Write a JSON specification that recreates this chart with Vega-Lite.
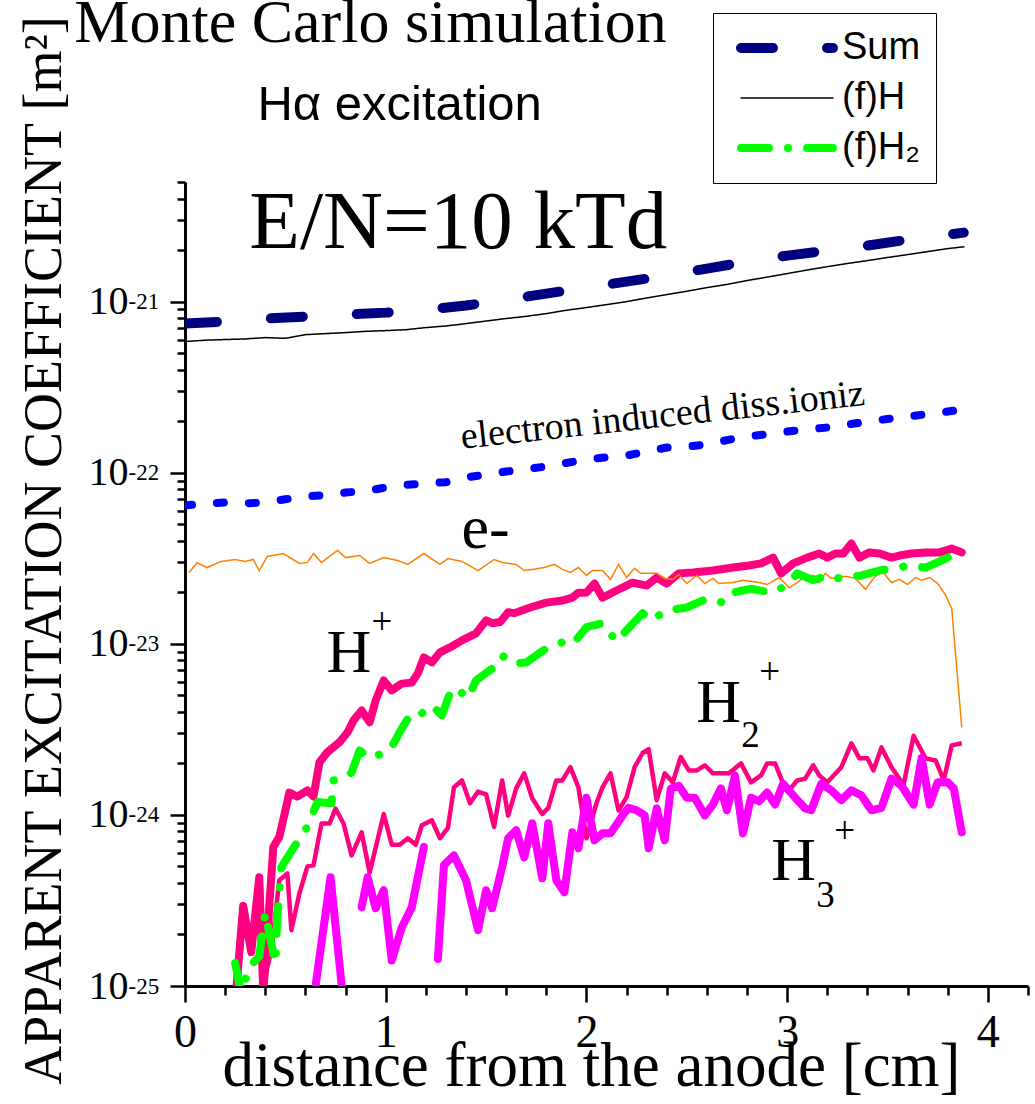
{
"$schema": "https://vega.github.io/schema/vega-lite/v6.json",
"width": 843, "height": 804,
"autosize": {"type": "none"},
"padding": {"left": 185, "top": 182, "right": 7, "bottom": 118},
"background": "white",
"config": {"view": {"stroke": null}, "font": "Liberation Serif"},
"title": {"text": "Monte Carlo simulation", "font": "Liberation Serif", "fontSize": 62, "fontWeight": "normal", "color": "black", "anchor": "middle", "frame": "group", "dx": -236, "offset": -42},
"datasets": {
"electron": [{"x":0,"y":6.43e-23},{"x":0.1,"y":6.6e-23},{"x":0.2,"y":6.7e-23},{"x":0.3,"y":6.62e-23},{"x":0.4,"y":6.7e-23},{"x":0.5,"y":7.0e-23},{"x":0.6,"y":7.26e-23},{"x":0.7,"y":7.4e-23},{"x":0.8,"y":7.66e-23},{"x":0.9,"y":7.8e-23},{"x":1.0,"y":8.19e-23},{"x":1.1,"y":8.5e-23},{"x":1.2,"y":8.65e-23},{"x":1.3,"y":8.8e-23},{"x":1.4,"y":9.38e-23},{"x":1.5,"y":9.76e-23},{"x":1.6,"y":1.016e-22},{"x":1.7,"y":1.05e-22},{"x":1.8,"y":1.087e-22},{"x":1.9,"y":1.14e-22},{"x":2.0,"y":1.194e-22},{"x":2.1,"y":1.23e-22},{"x":2.2,"y":1.26e-22},{"x":2.3,"y":1.33e-22},{"x":2.4,"y":1.403e-22},{"x":2.5,"y":1.42e-22},{"x":2.6,"y":1.462e-22},{"x":2.7,"y":1.55e-22},{"x":2.8,"y":1.627e-22},{"x":2.9,"y":1.68e-22},{"x":3.0,"y":1.74e-22},{"x":3.1,"y":1.79e-22},{"x":3.2,"y":1.837e-22},{"x":3.3,"y":1.91e-22},{"x":3.4,"y":1.99e-22},{"x":3.5,"y":2.06e-22},{"x":3.6,"y":2.13e-22},{"x":3.7,"y":2.2e-22},{"x":3.8,"y":2.28e-22},{"x":3.88,"y":2.34e-22}],
"hplus": [{"x":0.25,"y":8e-26},{"x":0.29,"y":2.94e-25},{"x":0.33,"y":1.58e-25},{"x":0.37,"y":4.32e-25},{"x":0.39,"y":9e-26},{"x":0.44,"y":6.49e-25},{"x":0.47,"y":7.44e-25},{"x":0.52,"y":1.35e-24},{"x":0.56,"y":1.28e-24},{"x":0.61,"y":1.39e-24},{"x":0.64,"y":1.28e-24},{"x":0.67,"y":2.03e-24},{"x":0.71,"y":2.33e-24},{"x":0.77,"y":2.66e-24},{"x":0.81,"y":3.04e-24},{"x":0.84,"y":3.57e-24},{"x":0.88,"y":4.08e-24},{"x":0.92,"y":3.48e-24},{"x":0.95,"y":4.67e-24},{"x":0.99,"y":6.11e-24},{"x":1.03,"y":5.34e-24},{"x":1.08,"y":5.85e-24},{"x":1.13,"y":5.93e-24},{"x":1.16,"y":6.72e-24},{"x":1.19,"y":8.33e-24},{"x":1.23,"y":7.78e-24},{"x":1.27,"y":8.91e-24},{"x":1.32,"y":9.52e-24},{"x":1.38,"y":1.047e-23},{"x":1.45,"y":1.15e-23},{"x":1.5,"y":1.37e-23},{"x":1.53,"y":1.32e-23},{"x":1.57,"y":1.34e-23},{"x":1.61,"y":1.53e-23},{"x":1.64,"y":1.51e-23},{"x":1.72,"y":1.63e-23},{"x":1.8,"y":1.74e-23},{"x":1.88,"y":1.79e-23},{"x":1.93,"y":1.86e-23},{"x":1.96,"y":1.99e-23},{"x":2.0,"y":1.99e-23},{"x":2.04,"y":2.25e-23},{"x":2.08,"y":1.86e-23},{"x":2.15,"y":2.05e-23},{"x":2.23,"y":2.28e-23},{"x":2.3,"y":2.19e-23},{"x":2.35,"y":2.44e-23},{"x":2.4,"y":2.25e-23},{"x":2.46,"y":2.58e-23},{"x":2.53,"y":2.61e-23},{"x":2.63,"y":2.68e-23},{"x":2.73,"y":2.79e-23},{"x":2.81,"y":2.87e-23},{"x":2.87,"y":2.95e-23},{"x":2.93,"y":3.19e-23},{"x":2.97,"y":2.58e-23},{"x":3.03,"y":2.95e-23},{"x":3.1,"y":3.19e-23},{"x":3.16,"y":3.37e-23},{"x":3.2,"y":3.19e-23},{"x":3.24,"y":3.37e-23},{"x":3.28,"y":3.37e-23},{"x":3.32,"y":3.86e-23},{"x":3.36,"y":3.19e-23},{"x":3.41,"y":3.42e-23},{"x":3.46,"y":3.37e-23},{"x":3.52,"y":3.19e-23},{"x":3.56,"y":3.28e-23},{"x":3.62,"y":3.37e-23},{"x":3.69,"y":3.42e-23},{"x":3.76,"y":3.42e-23},{"x":3.82,"y":3.6e-23},{"x":3.87,"y":3.42e-23}],
"h2plus": [{"x":0.38,"y":9e-26},{"x":0.43,"y":1.62e-25},{"x":0.47,"y":4.15e-25},{"x":0.51,"y":4.55e-25},{"x":0.53,"y":2.12e-25},{"x":0.57,"y":3.48e-25},{"x":0.61,"y":5.0e-25},{"x":0.64,"y":5.07e-25},{"x":0.68,"y":8.9e-25},{"x":0.72,"y":8.9e-25},{"x":0.75,"y":1.09e-24},{"x":0.79,"y":8.9e-25},{"x":0.83,"y":5.8e-25},{"x":0.88,"y":7.9e-25},{"x":0.92,"y":4.6e-25},{"x":0.99,"y":1.01e-24},{"x":1.03,"y":6.7e-25},{"x":1.07,"y":6.7e-25},{"x":1.11,"y":7.3e-25},{"x":1.15,"y":6.7e-25},{"x":1.18,"y":8.7e-25},{"x":1.23,"y":9.3e-25},{"x":1.27,"y":7.3e-25},{"x":1.31,"y":8.4e-25},{"x":1.34,"y":1.45e-24},{"x":1.38,"y":1.59e-24},{"x":1.42,"y":1.17e-24},{"x":1.46,"y":1.37e-24},{"x":1.5,"y":1.32e-24},{"x":1.54,"y":8.5e-25},{"x":1.58,"y":1.59e-24},{"x":1.61,"y":9.9e-25},{"x":1.65,"y":1.43e-24},{"x":1.69,"y":1.75e-24},{"x":1.73,"y":1.25e-24},{"x":1.78,"y":1.01e-24},{"x":1.81,"y":1.1e-24},{"x":1.85,"y":1.59e-24},{"x":1.88,"y":1.59e-24},{"x":1.92,"y":1.9e-24},{"x":1.96,"y":1.45e-24},{"x":2.0,"y":7.3e-25},{"x":2.05,"y":1.17e-24},{"x":2.08,"y":1.45e-24},{"x":2.12,"y":1.75e-24},{"x":2.16,"y":1.06e-24},{"x":2.2,"y":1.27e-24},{"x":2.24,"y":1.9e-24},{"x":2.28,"y":2.3e-24},{"x":2.31,"y":2.42e-24},{"x":2.35,"y":1.22e-24},{"x":2.39,"y":1.75e-24},{"x":2.43,"y":1.55e-24},{"x":2.47,"y":2.18e-24},{"x":2.51,"y":1.82e-24},{"x":2.55,"y":1.82e-24},{"x":2.59,"y":1.95e-24},{"x":2.63,"y":1.75e-24},{"x":2.71,"y":1.75e-24},{"x":2.77,"y":2.0e-24},{"x":2.82,"y":1.55e-24},{"x":2.87,"y":1.7e-24},{"x":2.9,"y":2.0e-24},{"x":2.94,"y":2.0e-24},{"x":2.98,"y":1.53e-24},{"x":3.01,"y":1.39e-24},{"x":3.05,"y":1.59e-24},{"x":3.09,"y":1.63e-24},{"x":3.13,"y":1.95e-24},{"x":3.16,"y":1.7e-24},{"x":3.2,"y":1.55e-24},{"x":3.27,"y":1.9e-24},{"x":3.32,"y":2.62e-24},{"x":3.36,"y":2.14e-24},{"x":3.4,"y":2.14e-24},{"x":3.43,"y":1.82e-24},{"x":3.47,"y":2.48e-24},{"x":3.52,"y":1.9e-24},{"x":3.58,"y":1.5e-24},{"x":3.63,"y":2.9e-24},{"x":3.69,"y":2.14e-24},{"x":3.74,"y":2.08e-24},{"x":3.78,"y":1.59e-24},{"x":3.82,"y":2.55e-24},{"x":3.87,"y":2.62e-24}],
"h3plus": [{"g":"a","x":0.645,"y":9e-26},{"g":"a","x":0.725,"y":4.32e-25},{"g":"a","x":0.785,"y":9e-26},
{"g":"b","x":0.88,"y":2.89e-25},{"g":"b","x":0.91,"y":4.32e-25},{"g":"b","x":0.95,"y":2.85e-25},{"g":"b","x":0.99,"y":3.63e-25},{"g":"b","x":1.03,"y":1.41e-25},{"g":"b","x":1.08,"y":2.2e-25},{"g":"b","x":1.13,"y":2.89e-25},{"g":"b","x":1.19,"y":6.49e-25},
{"g":"c","x":1.26,"y":1.44e-25},{"g":"c","x":1.29,"y":5.08e-25},{"g":"c","x":1.34,"y":5.8e-25},{"g":"c","x":1.4,"y":4.15e-25},{"g":"c","x":1.46,"y":2.12e-25},{"g":"c","x":1.5,"y":3.63e-25},{"g":"c","x":1.53,"y":2.85e-25},{"g":"c","x":1.58,"y":4.95e-25},{"g":"c","x":1.61,"y":7.3e-25},{"g":"c","x":1.65,"y":8.13e-25},{"g":"c","x":1.69,"y":5.65e-25},{"g":"c","x":1.73,"y":8.93e-25},{"g":"c","x":1.78,"y":4.26e-25},{"g":"c","x":1.81,"y":8.93e-25},{"g":"c","x":1.85,"y":4.15e-25},{"g":"c","x":1.89,"y":3.53e-25},{"g":"c","x":1.93,"y":7.92e-25},{"g":"c","x":1.96,"y":6.39e-25},{"g":"c","x":2.0,"y":1.26e-24},{"g":"c","x":2.04,"y":7.11e-25},{"g":"c","x":2.08,"y":7.8e-25},{"g":"c","x":2.12,"y":7.8e-25},{"g":"c","x":2.18,"y":9.93e-25},{"g":"c","x":2.21,"y":1.1e-24},{"g":"c","x":2.25,"y":1.064e-24},{"g":"c","x":2.29,"y":9.93e-25},{"g":"c","x":2.31,"y":6.39e-25},{"g":"c","x":2.35,"y":1.09e-24},{"g":"c","x":2.39,"y":7.11e-25},{"g":"c","x":2.42,"y":1.42e-24},{"g":"c","x":2.46,"y":1.48e-24},{"g":"c","x":2.5,"y":1.26e-24},{"g":"c","x":2.54,"y":1.26e-24},{"g":"c","x":2.59,"y":9.93e-25},{"g":"c","x":2.63,"y":1.15e-24},{"g":"c","x":2.67,"y":1.43e-24},{"g":"c","x":2.7,"y":1.064e-24},{"g":"c","x":2.74,"y":1.7e-24},{"g":"c","x":2.78,"y":7.8e-25},{"g":"c","x":2.82,"y":1.26e-24},{"g":"c","x":2.86,"y":1.2e-24},{"g":"c","x":2.9,"y":1.35e-24},{"g":"c","x":2.94,"y":1.15e-24},{"g":"c","x":2.98,"y":1.52e-24},{"g":"c","x":3.04,"y":1.26e-24},{"g":"c","x":3.09,"y":1.09e-24},{"g":"c","x":3.12,"y":1.064e-24},{"g":"c","x":3.17,"y":1.52e-24},{"g":"c","x":3.22,"y":1.39e-24},{"g":"c","x":3.27,"y":1.22e-24},{"g":"c","x":3.32,"y":1.39e-24},{"g":"c","x":3.37,"y":1.3e-24},{"g":"c","x":3.42,"y":1.064e-24},{"g":"c","x":3.47,"y":1.1e-24},{"g":"c","x":3.52,"y":1.63e-24},{"g":"c","x":3.57,"y":1.48e-24},{"g":"c","x":3.63,"y":1.15e-24},{"g":"c","x":3.67,"y":2.15e-24},{"g":"c","x":3.71,"y":1.15e-24},{"g":"c","x":3.75,"y":1.55e-24},{"g":"c","x":3.8,"y":1.55e-24},{"g":"c","x":3.83,"y":1.43e-24},{"g":"c","x":3.87,"y":7.92e-25}],
"eminus": [{"x":0.02,"y":2.61e-23},{"x":0.06,"y":2.97e-23},{"x":0.11,"y":2.79e-23},{"x":0.18,"y":3.03e-23},{"x":0.25,"y":3.11e-23},{"x":0.3,"y":3.03e-23},{"x":0.34,"y":3.11e-23},{"x":0.37,"y":2.68e-23},{"x":0.41,"y":3.24e-23},{"x":0.49,"y":3.37e-23},{"x":0.57,"y":2.95e-23},{"x":0.61,"y":2.99e-23},{"x":0.64,"y":3.37e-23},{"x":0.68,"y":2.99e-23},{"x":0.76,"y":3.51e-23},{"x":0.8,"y":3.19e-23},{"x":0.87,"y":3.28e-23},{"x":0.92,"y":2.95e-23},{"x":0.99,"y":3.19e-23},{"x":1.06,"y":3.07e-23},{"x":1.11,"y":2.91e-23},{"x":1.19,"y":3.37e-23},{"x":1.27,"y":2.91e-23},{"x":1.31,"y":3.15e-23},{"x":1.38,"y":3.03e-23},{"x":1.46,"y":2.68e-23},{"x":1.54,"y":3.11e-23},{"x":1.58,"y":2.99e-23},{"x":1.65,"y":2.91e-23},{"x":1.69,"y":2.68e-23},{"x":1.73,"y":2.72e-23},{"x":1.79,"y":2.79e-23},{"x":1.84,"y":2.91e-23},{"x":1.88,"y":2.72e-23},{"x":1.92,"y":2.61e-23},{"x":1.96,"y":2.79e-23},{"x":2.0,"y":2.51e-23},{"x":2.03,"y":2.68e-23},{"x":2.08,"y":2.68e-23},{"x":2.12,"y":2.38e-23},{"x":2.16,"y":2.91e-23},{"x":2.2,"y":2.44e-23},{"x":2.24,"y":2.76e-23},{"x":2.27,"y":2.58e-23},{"x":2.35,"y":2.58e-23},{"x":2.39,"y":2.41e-23},{"x":2.43,"y":2.38e-23},{"x":2.46,"y":2.54e-23},{"x":2.5,"y":2.25e-23},{"x":2.55,"y":2.51e-23},{"x":2.59,"y":2.25e-23},{"x":2.63,"y":2.41e-23},{"x":2.66,"y":2.25e-23},{"x":2.73,"y":2.28e-23},{"x":2.78,"y":2.35e-23},{"x":2.86,"y":2.28e-23},{"x":2.9,"y":2.22e-23},{"x":2.96,"y":2.44e-23},{"x":3.01,"y":2.13e-23},{"x":3.05,"y":2.28e-23},{"x":3.1,"y":2.51e-23},{"x":3.13,"y":2.51e-23},{"x":3.16,"y":2.28e-23},{"x":3.19,"y":2.58e-23},{"x":3.22,"y":2.41e-23},{"x":3.27,"y":2.47e-23},{"x":3.3,"y":2.47e-23},{"x":3.34,"y":2.41e-23},{"x":3.39,"y":2.08e-23},{"x":3.43,"y":2.41e-23},{"x":3.47,"y":2.68e-23},{"x":3.52,"y":2.28e-23},{"x":3.56,"y":2.38e-23},{"x":3.6,"y":2.22e-23},{"x":3.64,"y":2.44e-23},{"x":3.67,"y":2.35e-23},{"x":3.71,"y":2.44e-23},{"x":3.75,"y":2.25e-23},{"x":3.79,"y":1.92e-23},{"x":3.82,"y":1.61e-23},{"x":3.87,"y":3.25e-24}],
"main": [{"s":"Sum","x":0,"y":7.44e-22},{"s":"Sum","x":0.2,"y":7.64e-22},{"s":"Sum","x":0.4,"y":7.96e-22},{"s":"Sum","x":0.6,"y":8.17e-22},{"s":"Sum","x":0.8,"y":8.39e-22},{"s":"Sum","x":1.0,"y":8.62e-22},{"s":"Sum","x":1.2,"y":8.98e-22},{"s":"Sum","x":1.4,"y":9.48e-22},{"s":"Sum","x":1.6,"y":1.027e-21},{"s":"Sum","x":1.8,"y":1.113e-21},{"s":"Sum","x":2.0,"y":1.207e-21},{"s":"Sum","x":2.2,"y":1.309e-21},{"s":"Sum","x":2.4,"y":1.419e-21},{"s":"Sum","x":2.6,"y":1.559e-21},{"s":"Sum","x":2.8,"y":1.713e-21},{"s":"Sum","x":3.0,"y":1.857e-21},{"s":"Sum","x":3.2,"y":1.986e-21},{"s":"Sum","x":3.4,"y":2.124e-21},{"s":"Sum","x":3.6,"y":2.3e-21},{"s":"Sum","x":3.8,"y":2.46e-21},{"s":"Sum","x":3.88,"y":2.53e-21},
{"s":"(f)H","x":0,"y":5.84e-22},{"s":"(f)H","x":0.1,"y":5.95e-22},{"s":"(f)H","x":0.2,"y":6.0e-22},{"s":"(f)H","x":0.3,"y":6.05e-22},{"s":"(f)H","x":0.4,"y":6.16e-22},{"s":"(f)H","x":0.5,"y":6.1e-22},{"s":"(f)H","x":0.6,"y":6.41e-22},{"s":"(f)H","x":0.7,"y":6.5e-22},{"s":"(f)H","x":0.8,"y":6.59e-22},{"s":"(f)H","x":0.9,"y":6.7e-22},{"s":"(f)H","x":1.0,"y":6.77e-22},{"s":"(f)H","x":1.1,"y":6.85e-22},{"s":"(f)H","x":1.2,"y":7.05e-22},{"s":"(f)H","x":1.3,"y":7.2e-22},{"s":"(f)H","x":1.4,"y":7.44e-22},{"s":"(f)H","x":1.5,"y":7.7e-22},{"s":"(f)H","x":1.6,"y":7.96e-22},{"s":"(f)H","x":1.7,"y":8.2e-22},{"s":"(f)H","x":1.8,"y":8.51e-22},{"s":"(f)H","x":1.9,"y":8.9e-22},{"s":"(f)H","x":2.0,"y":9.23e-22},{"s":"(f)H","x":2.1,"y":9.6e-22},{"s":"(f)H","x":2.2,"y":1.0e-21},{"s":"(f)H","x":2.3,"y":1.05e-21},{"s":"(f)H","x":2.4,"y":1.099e-21},{"s":"(f)H","x":2.5,"y":1.15e-21},{"s":"(f)H","x":2.6,"y":1.207e-21},{"s":"(f)H","x":2.7,"y":1.26e-21},{"s":"(f)H","x":2.8,"y":1.327e-21},{"s":"(f)H","x":2.9,"y":1.39e-21},{"s":"(f)H","x":3.0,"y":1.458e-21},{"s":"(f)H","x":3.1,"y":1.53e-21},{"s":"(f)H","x":3.2,"y":1.6e-21},{"s":"(f)H","x":3.3,"y":1.67e-21},{"s":"(f)H","x":3.4,"y":1.736e-21},{"s":"(f)H","x":3.5,"y":1.81e-21},{"s":"(f)H","x":3.6,"y":1.882e-21},{"s":"(f)H","x":3.7,"y":1.96e-21},{"s":"(f)H","x":3.8,"y":2.04e-21},{"s":"(f)H","x":3.88,"y":2.09e-21},
{"s":"(f)H₂","x":0.25,"y":1.36e-25},{"s":"(f)H₂","x":0.28,"y":9e-26},{"s":"(f)H₂","x":0.32,"y":1.29e-25},{"s":"(f)H₂","x":0.37,"y":1.49e-25},{"s":"(f)H₂","x":0.4,"y":2.68e-25},{"s":"(f)H₂","x":0.45,"y":1.36e-25},{"s":"(f)H₂","x":0.46,"y":2.52e-25},{"s":"(f)H₂","x":0.48,"y":4.95e-25},{"s":"(f)H₂","x":0.54,"y":6.39e-25},{"s":"(f)H₂","x":0.61,"y":8.54e-25},{"s":"(f)H₂","x":0.66,"y":1.19e-24},{"s":"(f)H₂","x":0.73,"y":1.17e-24},{"s":"(f)H₂","x":0.74,"y":1.59e-24},{"s":"(f)H₂","x":0.8,"y":1.66e-24},{"s":"(f)H₂","x":0.83,"y":1.77e-24},{"s":"(f)H₂","x":0.87,"y":2.38e-24},{"s":"(f)H₂","x":0.92,"y":2.14e-24},{"s":"(f)H₂","x":1.02,"y":2.38e-24},{"s":"(f)H₂","x":1.08,"y":3.2e-24},{"s":"(f)H₂","x":1.13,"y":3.97e-24},{"s":"(f)H₂","x":1.18,"y":3.92e-24},{"s":"(f)H₂","x":1.23,"y":4.36e-24},{"s":"(f)H₂","x":1.28,"y":3.82e-24},{"s":"(f)H₂","x":1.32,"y":5.13e-24},{"s":"(f)H₂","x":1.35,"y":5.55e-24},{"s":"(f)H₂","x":1.41,"y":4.8e-24},{"s":"(f)H₂","x":1.45,"y":6.11e-24},{"s":"(f)H₂","x":1.53,"y":7.17e-24},{"s":"(f)H₂","x":1.58,"y":8.55e-24},{"s":"(f)H₂","x":1.63,"y":7.67e-24},{"s":"(f)H₂","x":1.7,"y":7.78e-24},{"s":"(f)H₂","x":1.8,"y":9.4e-24},{"s":"(f)H₂","x":1.88,"y":1.02e-23},{"s":"(f)H₂","x":1.93,"y":9.9e-24},{"s":"(f)H₂","x":2.0,"y":1.25e-23},{"s":"(f)H₂","x":2.08,"y":1.32e-23},{"s":"(f)H₂","x":2.15,"y":1.03e-23},{"s":"(f)H₂","x":2.2,"y":1.2e-23},{"s":"(f)H₂","x":2.28,"y":1.51e-23},{"s":"(f)H₂","x":2.32,"y":1.37e-23},{"s":"(f)H₂","x":2.4,"y":1.57e-23},{"s":"(f)H₂","x":2.5,"y":1.63e-23},{"s":"(f)H₂","x":2.6,"y":1.84e-23},{"s":"(f)H₂","x":2.68,"y":1.74e-23},{"s":"(f)H₂","x":2.73,"y":1.99e-23},{"s":"(f)H₂","x":2.82,"y":2.1e-23},{"s":"(f)H₂","x":2.92,"y":1.99e-23},{"s":"(f)H₂","x":3.0,"y":2.19e-23},{"s":"(f)H₂","x":3.05,"y":2.58e-23},{"s":"(f)H₂","x":3.13,"y":2.35e-23},{"s":"(f)H₂","x":3.2,"y":2.51e-23},{"s":"(f)H₂","x":3.26,"y":2.41e-23},{"s":"(f)H₂","x":3.37,"y":2.51e-23},{"s":"(f)H₂","x":3.46,"y":2.68e-23},{"s":"(f)H₂","x":3.56,"y":2.79e-23},{"s":"(f)H₂","x":3.6,"y":2.87e-23},{"s":"(f)H₂","x":3.69,"y":2.79e-23},{"s":"(f)H₂","x":3.79,"y":3.15e-23},{"s":"(f)H₂","x":3.82,"y":3.28e-23},{"s":"(f)H₂","x":3.87,"y":2.95e-23}],
"bigtext": [{"x":0.705,"y":6.81e-24,"t":"H"},{"x":2.547,"y":3.48e-24,"t":"H"},{"x":2.921,"y":4.15e-25,"t":"H"},{"x":1.378,"y":3.61e-23,"t":"e-"}],
"smalltext": [{"x":0.929,"y":1.135e-23,"t":"+"},{"x":2.771,"y":2.48e-24,"t":"2"},{"x":2.861,"y":5.79e-24,"t":"+"},{"x":3.145,"y":2.88e-25,"t":"3"},{"x":3.235,"y":6.82e-25,"t":"+"}],
"entext": [{"x":0.32,"y":2.07e-21,"t":"E/N=10 kTd"}],
"eltext": [{"x":1.38,"y":1.38e-22,"t":"electron induced diss.ioniz"}],
"subtext": [{"x":0.361,"y":1.156e-20,"t":"Hα excitation"}]
},
"layer": [
{"data": {"name": "electron"},
 "mark": {"type": "line", "color": "#0000ff", "strokeWidth": 8, "strokeDash": [7, 25], "strokeCap": "round", "strokeJoin": "round", "clip": true},
 "encoding": {
  "x": {"field": "x", "type": "quantitative", "scale": {"domain": [0, 4.2], "nice": false, "zero": false},
   "axis": {"values": [0,0.2,0.4,0.6,0.8,1,1.2,1.4,1.6,1.8,2,2.2,2.4,2.6,2.8,3,3.2,3.4,3.6,3.8,4,4.2],
    "labelExpr": "abs(datum.value - round(datum.value)) < 0.001 ? format(datum.value, 'd') : ''",
    "tickSize": {"condition": {"test": "abs(datum.value - round(datum.value)) < 0.001", "value": 16}, "value": 9},
    "tickWidth": 2.5, "tickColor": "black", "domainColor": "black", "domainWidth": 3, "grid": false,
    "labelFont": "Liberation Serif", "labelFontSize": 46, "labelColor": "black", "labelPadding": 8, "labelOverlap": false, "labelFlush": false,
    "title": "distance from the anode [cm]", "titleFont": "Liberation Serif", "titleFontSize": 63, "titleFontWeight": "normal", "titleColor": "black",
    "titleX": 406, "titleY": 99, "titleAlign": "center", "titleBaseline": "alphabetic"}},
  "y": {"field": "y", "type": "quantitative", "scale": {"type": "log", "domain": [1e-25, 5e-21], "nice": false},
   "axis": {"values": [1e-25,2e-25,3e-25,4e-25,5e-25,6e-25,7e-25,8e-25,9e-25,1e-24,2e-24,3e-24,4e-24,5e-24,6e-24,7e-24,8e-24,9e-24,1e-23,2e-23,3e-23,4e-23,5e-23,6e-23,7e-23,8e-23,9e-23,1e-22,2e-22,3e-22,4e-22,5e-22,6e-22,7e-22,8e-22,9e-22,1e-21,2e-21,3e-21,4e-21,5e-21],
    "labelExpr": "abs(log(datum.value)/LN10 - round(log(datum.value)/LN10)) < 0.01 ? '10' : ''",
    "tickSize": {"condition": {"test": "abs(log(datum.value)/LN10 - round(log(datum.value)/LN10)) < 0.01", "value": 15}, "value": 8},
    "tickWidth": 2.5, "tickColor": "black", "domainColor": "black", "domainWidth": 3, "grid": false,
    "labelFont": "Liberation Serif", "labelFontSize": 40, "labelColor": "black", "labelPadding": 42, "labelDy": 3, "labelOverlap": false, "labelFlush": false,
    "title": "APPARENT EXCITATION COEFFICIENT [m²]", "titleFont": "Liberation Serif", "titleFontSize": 54, "titleFontWeight": "normal", "titleColor": "black",
    "titleX": -125, "titleY": 368, "titleAlign": "center", "titleBaseline": "alphabetic", "titleAngle": 270}}
 }},
{"data": {"name": "hplus"},
 "mark": {"type": "line", "color": "#ff0080", "strokeWidth": 8, "strokeJoin": "round", "strokeCap": "round", "clip": true},
 "encoding": {
  "x": {"field": "x", "type": "quantitative"},
  "y": {"field": "y", "type": "quantitative", "scale": {"type": "log", "domain": [1e-25, 5e-21], "nice": false},
   "axis": {"orient": "left", "values": [1e-25,1e-24,1e-23,1e-22,1e-21],
    "labelExpr": "'-' + format(-round(log(datum.value)/LN10), 'd')",
    "ticks": false, "domain": false, "grid": false, "labelAlign": "left", "labelPadding": 57, "labelDy": -18,
    "labelFont": "Liberation Serif", "labelFontSize": 23, "labelColor": "black", "labelOverlap": false, "labelFlush": false, "title": null}}
 }},
{"data": {"name": "h2plus"},
 "mark": {"type": "line", "color": "#ff0080", "strokeWidth": 4.5, "strokeJoin": "round", "clip": true},
 "encoding": {
  "x": {"field": "x", "type": "quantitative"},
  "y": {"field": "y", "type": "quantitative", "scale": {"type": "log", "domain": [1e-25, 5e-21], "nice": false}, "axis": null}
 }},
{"data": {"name": "h3plus"},
 "mark": {"type": "line", "color": "#ff00ff", "strokeWidth": 8, "strokeJoin": "round", "strokeCap": "round", "clip": true},
 "encoding": {
  "x": {"field": "x", "type": "quantitative"},
  "y": {"field": "y", "type": "quantitative", "scale": {"type": "log", "domain": [1e-25, 5e-21], "nice": false}, "axis": null},
  "detail": {"field": "g", "type": "nominal"}
 }},
{"data": {"name": "eminus"},
 "mark": {"type": "line", "color": "#ff8000", "strokeWidth": 1.5, "clip": true},
 "encoding": {
  "x": {"field": "x", "type": "quantitative"},
  "y": {"field": "y", "type": "quantitative", "scale": {"type": "log", "domain": [1e-25, 5e-21], "nice": false}, "axis": null}
 }},
{"data": {"name": "main"},
 "mark": {"type": "line", "strokeCap": "round", "strokeJoin": "round", "clip": true},
 "encoding": {
  "x": {"field": "x", "type": "quantitative"},
  "y": {"field": "y", "type": "quantitative", "scale": {"type": "log", "domain": [1e-25, 5e-21], "nice": false}, "axis": null},
  "color": {"field": "s", "type": "nominal", "scale": {"domain": ["Sum", "(f)H", "(f)H₂"], "range": ["#000080", "#000000", "#00ff00"]},
   "legend": {"title": null, "orient": "none", "legendX": 528, "legendY": -169, "strokeColor": "black", "fillColor": "white", "padding": 15, "symbolType": "stroke", "symbolSize": 8464, "symbolOffset": 8, "clipHeight": 40, "rowPadding": 10, "labelOffset": 4, "labelFont": "Liberation Sans", "labelFontSize": 38, "labelColor": "black", "encode": {"symbols": {"update": {"strokeCap": {"value": "round"}}}}}},
  "strokeDash": {"field": "s", "type": "nominal", "scale": {"domain": ["Sum", "(f)H", "(f)H₂"], "range": [[32, 54], [1, 0], [28, 19, 0.1, 19]]},
   "legend": {"title": null, "orient": "none", "legendX": 528, "legendY": -169, "strokeColor": "black", "fillColor": "white", "padding": 15, "symbolType": "stroke", "symbolSize": 8464, "symbolOffset": 8, "clipHeight": 40, "rowPadding": 10, "labelOffset": 4, "labelFont": "Liberation Sans", "labelFontSize": 38, "labelColor": "black"}},
  "strokeWidth": {"field": "s", "type": "nominal", "scale": {"type": "ordinal", "domain": ["Sum", "(f)H", "(f)H₂"], "range": [10, 1.5, 8]},
   "legend": {"title": null, "orient": "none", "legendX": 528, "legendY": -169, "strokeColor": "black", "fillColor": "white", "padding": 15, "symbolType": "stroke", "symbolSize": 8464, "symbolOffset": 8, "clipHeight": 40, "rowPadding": 10, "labelOffset": 4, "labelFont": "Liberation Sans", "labelFontSize": 38, "labelColor": "black"}}
 }},
{"data": {"name": "bigtext"},
 "mark": {"type": "text", "font": "Liberation Serif", "fontSize": 62, "align": "left", "baseline": "alphabetic", "color": "black"},
 "encoding": {
  "x": {"field": "x", "type": "quantitative"},
  "y": {"field": "y", "type": "quantitative", "scale": {"type": "log", "domain": [1e-25, 5e-21], "nice": false}, "axis": null},
  "text": {"field": "t"}
 }},
{"data": {"name": "smalltext"},
 "mark": {"type": "text", "font": "Liberation Serif", "fontSize": 37, "align": "left", "baseline": "alphabetic", "color": "black"},
 "encoding": {
  "x": {"field": "x", "type": "quantitative"},
  "y": {"field": "y", "type": "quantitative", "scale": {"type": "log", "domain": [1e-25, 5e-21], "nice": false}, "axis": null},
  "text": {"field": "t"}
 }},
{"data": {"name": "entext"},
 "mark": {"type": "text", "font": "Liberation Serif", "fontSize": 83, "align": "left", "baseline": "alphabetic", "color": "black"},
 "encoding": {
  "x": {"field": "x", "type": "quantitative"},
  "y": {"field": "y", "type": "quantitative", "scale": {"type": "log", "domain": [1e-25, 5e-21], "nice": false}, "axis": null},
  "text": {"field": "t"}
 }},
{"data": {"name": "eltext"},
 "mark": {"type": "text", "font": "Liberation Serif", "fontSize": 38, "align": "left", "baseline": "alphabetic", "angle": -6.2, "color": "black"},
 "encoding": {
  "x": {"field": "x", "type": "quantitative"},
  "y": {"field": "y", "type": "quantitative", "scale": {"type": "log", "domain": [1e-25, 5e-21], "nice": false}, "axis": null},
  "text": {"field": "t"}
 }},
{"data": {"name": "subtext"},
 "mark": {"type": "text", "font": "Liberation Sans", "fontSize": 49, "align": "left", "baseline": "alphabetic", "color": "black"},
 "encoding": {
  "x": {"field": "x", "type": "quantitative"},
  "y": {"field": "y", "type": "quantitative", "scale": {"type": "log", "domain": [1e-25, 5e-21], "nice": false}, "axis": null},
  "text": {"field": "t"}
 }}
],
"resolve": {"axis": {"y": "independent"}}
}
